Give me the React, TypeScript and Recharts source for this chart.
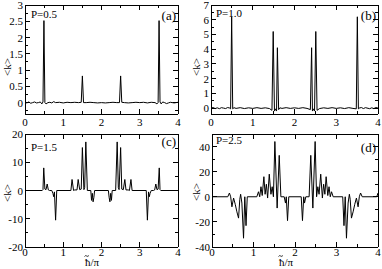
import React from 'react';
import { LineChart, Line, XAxis, YAxis } from 'recharts';

const FONT = '"Liberation Serif", "Times New Roman", serif';

// shared x axis
const xTicks = [0, 0.5, 1, 1.5, 2, 2.5, 3, 3.5, 4];
const xLabels = [0, 1, 2, 3, 4];

// panel (a) P=0.5
const ticksA = [-0.25, 0, 0.25, 0.5, 0.75, 1, 1.25, 1.5, 1.75, 2, 2.25, 2.5, 2.75, 3];
const labelsA = [0, 0.5, 1, 1.5, 2, 2.5, 3];
const curveA: [number, number][] = [
  [0, 0.01], [0.05, -0.01], [0.1, 0.02], [0.15, -0.02], [0.2, 0], [0.25, 0.02], [0.3, -0.01],
  [0.35, 0], [0.4, 0.02], [0.44, -0.04], [0.47, 0.02], [0.495, 2.52], [0.52, 0], [0.55, -0.04],
  [0.6, 0], [0.65, 0.01], [0.7, -0.01], [0.75, 0.03], [0.8, 0], [0.9, 0.01], [1.0, -0.01],
  [1.1, 0.01], [1.2, 0], [1.3, 0.01], [1.4, 0], [1.47, 0.01], [1.5, 0.82], [1.53, 0],
  [1.6, 0], [1.7, 0.01], [1.8, 0], [1.9, -0.01], [2.0, 0], [2.1, -0.01], [2.2, 0], [2.3, 0.01],
  [2.4, 0], [2.47, 0], [2.5, 0.82], [2.53, 0.01], [2.6, 0], [2.7, -0.01], [2.8, 0], [2.9, 0.01],
  [3.0, 0], [3.1, 0.01], [3.2, -0.01], [3.3, 0.01], [3.4, 0], [3.45, -0.04], [3.48, 0],
  [3.505, 2.52], [3.53, 0.02], [3.56, -0.04], [3.6, 0.02], [3.65, 0], [3.7, -0.03], [3.75, -0.01],
  [3.8, 0.01], [3.9, -0.01], [4, 0.01],
];

// panel (b) P=1.0
const ticksB = [0, 0.5, 1, 1.5, 2, 2.5, 3, 3.5, 4, 4.5, 5, 5.5, 6, 6.5, 7];
const labelsB = [0, 1, 2, 3, 4, 5, 6, 7];
const curveB: [number, number][] = [
  [0, 0], [0.05, 0.04], [0.1, -0.03], [0.15, 0.02], [0.2, -0.04], [0.25, 0.03], [0.3, 0],
  [0.35, -0.03], [0.4, 0.04], [0.45, 0], [0.47, -0.05], [0.495, 6.2], [0.52, -0.05], [0.55, 0.03],
  [0.6, -0.02], [0.7, 0.03], [0.8, -0.03], [0.9, 0.02], [1.0, -0.02], [1.1, 0.03], [1.2, -0.02],
  [1.3, 0.02], [1.4, -0.03], [1.46, -0.15], [1.49, 5.2], [1.52, -0.2], [1.55, -0.05], [1.57, -0.2],
  [1.59, 4.1], [1.62, -0.1], [1.65, 0.02], [1.7, -0.02], [1.8, 0.03], [1.9, -0.02], [2.0, 0.02],
  [2.1, -0.02], [2.2, 0.03], [2.3, -0.02], [2.38, -0.1], [2.41, 4.1], [2.43, -0.2], [2.45, -0.05],
  [2.48, -0.2], [2.51, 5.2], [2.54, -0.15], [2.6, -0.03], [2.7, 0.02], [2.8, -0.02], [2.9, 0.03],
  [3.0, -0.02], [3.1, 0.02], [3.2, -0.03], [3.3, 0.03], [3.4, -0.02], [3.48, -0.05], [3.505, 6.2],
  [3.53, -0.05], [3.55, 0], [3.6, 0.04], [3.65, -0.03], [3.7, 0.03], [3.8, -0.04], [3.85, 0.02],
  [3.9, -0.03], [3.95, 0.04], [4, 0],
];

// panel (c) P=1.5
const ticksC = [-20, -15, -10, -5, 0, 5, 10, 15, 20];
const labelsC = [-20, -10, 0, 10, 20];
const curveC: [number, number][] = [
  [0, 0], [0.45, 0], [0.47, 0.3], [0.49, 8], [0.52, 0.5], [0.55, 0.3], [0.58, 2.3], [0.61, 0.2],
  [0.64, 0], [0.7, 0], [0.73, -1], [0.75, -2.2], [0.77, -0.5], [0.8, -10.5], [0.83, 0],
  [1.2, 0], [1.23, 3.9], [1.27, 0], [1.3, 0.2], [1.36, 0.2], [1.39, 3.9], [1.43, 0.3],
  [1.47, 0.5], [1.5, 15.2], [1.54, 0.3], [1.56, 1], [1.59, 17.2], [1.63, 0], [1.72, 0],
  [1.74, -3.5], [1.76, -1], [1.78, -4], [1.8, -2.5], [1.82, 0],
  [2.18, 0], [2.2, -2.5], [2.22, -4], [2.24, -1], [2.26, -3.5], [2.28, 0], [2.37, 0],
  [2.41, 17.2], [2.44, 1], [2.46, 0.3], [2.5, 15.2], [2.53, 0.5], [2.57, 0.3], [2.61, 3.9],
  [2.64, 0.2], [2.7, 0.2], [2.73, 0], [2.77, 3.9], [2.8, 0],
  [3.17, 0], [3.2, -10.5], [3.23, -0.5], [3.25, -2.2], [3.27, -1], [3.3, 0], [3.36, 0],
  [3.39, 0.2], [3.42, 2.3], [3.45, 0.3], [3.48, 0.5], [3.51, 8], [3.53, 0.3], [3.55, 0], [4, 0],
];

// panel (d) P=2.5
const ticksD = [-40, -30, -20, -10, 0, 10, 20, 30, 40];
const labelsD = [-40, -20, 0, 20, 40];
const curveD: [number, number][] = [
  [0, 0], [0.38, 0], [0.42, 3], [0.45, 0], [0.48, -8], [0.52, -1], [0.56, -6], [0.6, -12],
  [0.64, -17], [0.67, -2], [0.69, 2], [0.72, -5], [0.76, -33], [0.79, 0], [0.82, -23], [0.85, 0],
  [1.08, 0], [1.12, 4], [1.15, 0], [1.18, 8], [1.21, 1], [1.25, 16], [1.28, 2], [1.31, 10],
  [1.34, -1], [1.38, 18], [1.42, 2], [1.45, 8], [1.48, 0], [1.515, 44], [1.57, -9], [1.62, 33],
  [1.66, 0], [1.74, 0], [1.77, -5], [1.79, 0], [1.82, -19], [1.85, 0],
  [2.15, 0], [2.18, -19], [2.21, 0], [2.23, -5], [2.26, 0], [2.34, 0], [2.38, 33], [2.43, -9],
  [2.485, 44], [2.52, 0], [2.55, 8], [2.58, 2], [2.62, 18], [2.66, -1], [2.69, 10], [2.72, 2],
  [2.75, 16], [2.79, 1], [2.82, 8], [2.85, 0], [2.88, 4], [2.92, 0],
  [3.15, 0], [3.18, -23], [3.21, 0], [3.24, -33], [3.28, -5], [3.31, 2], [3.33, -2], [3.36, -17],
  [3.4, -12], [3.44, -6], [3.48, -1], [3.52, -8], [3.55, 0], [3.58, 3], [3.62, 0], [3.97, 0],
  [4, 3],
];

const isIn = (list: number[], v: number) => list.some((l) => Math.abs(l - v) < 1e-9);

function makeTick(side: 'bottom' | 'top' | 'left' | 'right', labels: number[], labelDy = 12) {
  return (props: any) => {
    const { x, y, payload } = props;
    const v = payload.value;
    const major = isIn(labels, v);
    const len = major ? 5 : 3;
    const ls = { stroke: '#000', strokeWidth: 1, shapeRendering: 'crispEdges' as const };
    let line;
    if (side === 'bottom') line = <line x1={x} y1={y} x2={x} y2={y - len} {...ls} />;
    else if (side === 'top') line = <line x1={x} y1={y} x2={x} y2={y + len} {...ls} />;
    else if (side === 'left') line = <line x1={x} y1={y} x2={x + len} y2={y} {...ls} />;
    else line = <line x1={x} y1={y} x2={x - len} y2={y} {...ls} />;
    let label = null;
    if (major && side === 'bottom') {
      label = (
        <text x={x} y={y + labelDy} textAnchor="middle" fontSize={11} fontFamily={FONT} fill="#000">
          {String(v)}
        </text>
      );
    }
    if (major && side === 'left') {
      label = (
        <text x={x - 2} y={y + 4} textAnchor="end" fontSize={11} fontFamily={FONT} fill="#000">
          {String(v)}
        </text>
      );
    }
    return (
      <g>
        {line}
        {label}
      </g>
    );
  };
}

type PanelProps = {
  curve: [number, number][];
  yDomain: [number, number];
  yTicks: number[];
  yLabels: number[];
  left: number;
  top: number;
  width: number;
  height: number;
  margin: { top: number; right: number; bottom: number; left: number };
  xLabelDy: number;
};

// margin is the distance to the plot frame; the four axes take 1px each out of it
function Panel({ curve, yDomain, yTicks, yLabels, left, top, width, height, margin, xLabelDy }: PanelProps) {
  const data = curve.map(([x, y]) => ({ x, y }));
  const m = { top: margin.top - 1, right: margin.right - 1, bottom: margin.bottom - 1, left: margin.left - 1 };
  const axisCommon = {
    tickSize: 0, tickMargin: 0, tickLine: false, interval: 0 as const, allowDataOverflow: true,
    axisLine: { stroke: '#000', strokeWidth: 1, shapeRendering: 'crispEdges' },
  };
  return (
    <div style={{ position: 'absolute', left, top }}>
      <LineChart width={width} height={height} data={data} margin={m}>
        <XAxis xAxisId="b" dataKey="x" type="number" domain={[0, 4]} ticks={xTicks} height={1}
          tick={makeTick('bottom', xLabels, xLabelDy)} {...axisCommon} />
        <XAxis xAxisId="t" dataKey="x" type="number" domain={[0, 4]} ticks={xTicks} height={1}
          orientation="top" tick={makeTick('top', xLabels)} {...axisCommon} />
        <YAxis yAxisId="l" type="number" domain={yDomain} ticks={yTicks} width={1}
          tick={makeTick('left', yLabels)} {...axisCommon} />
        <YAxis yAxisId="r" type="number" domain={yDomain} ticks={yTicks} width={1}
          orientation="right" tick={makeTick('right', yLabels)} {...axisCommon} />
        <Line xAxisId="b" yAxisId="l" type="linear" dataKey="y" stroke="#000" strokeWidth={1}
          dot={false} isAnimationActive={false} />
      </LineChart>
    </div>
  );
}

export default function App() {
  const txt = { fontFamily: FONT, fill: '#000' };
  return (
    <div style={{ position: 'absolute', left: 0, top: 0, width: 382, height: 269, background: '#fff' }}>
      <Panel curve={curveA} yDomain={[-0.35, 3]} yTicks={ticksA} yLabels={labelsA}
        left={0} top={0} width={191} height={134} margin={{ top: 5, right: 13, bottom: 20, left: 25 }} xLabelDy={12} />
      <Panel curve={curveB} yDomain={[-0.4, 7]} yTicks={ticksB} yLabels={labelsB}
        left={191} top={0} width={191} height={134} margin={{ top: 5, right: 4, bottom: 20, left: 20 }} xLabelDy={12} />
      <Panel curve={curveC} yDomain={[-20, 20]} yTicks={ticksC} yLabels={labelsC}
        left={0} top={128} width={191} height={141} margin={{ top: 6, right: 13, bottom: 22, left: 25 }} xLabelDy={9} />
      <Panel curve={curveD} yDomain={[-40, 50]} yTicks={ticksD} yLabels={labelsD}
        left={191} top={128} width={191} height={141} margin={{ top: 6, right: 4, bottom: 22, left: 21 }} xLabelDy={9} />
      <svg width={382} height={269} style={{ position: 'absolute', left: 0, top: 0, pointerEvents: 'none' }}>
        <text x={31} y={18} fontSize={11} {...txt}>P=0.5</text>
        <text x={176} y={20} fontSize={13} textAnchor="end" {...txt}>(a)</text>
        <text x={216} y={17} fontSize={11} {...txt}>P=1.0</text>
        <text x={376} y={20} fontSize={13} textAnchor="end" {...txt}>(b)</text>
        <text x={31} y={151} fontSize={11} {...txt}>P=1.5</text>
        <text x={176} y={146} fontSize={13} textAnchor="end" {...txt}>(c)</text>
        <text x={216} y={144} fontSize={11} {...txt}>P=2.5</text>
        <text x={376} y={152} fontSize={13} textAnchor="end" {...txt}>(d)</text>
        <text x={11} y={67} fontSize={11} textAnchor="middle" transform="rotate(-90 11 67)" {...txt}>&lt;k&gt;</text>
        <text x={200} y={67} fontSize={11} textAnchor="middle" transform="rotate(-90 200 67)" {...txt}>&lt;k&gt;</text>
        <text x={11} y={193} fontSize={11} textAnchor="middle" transform="rotate(-90 11 193)" {...txt}>&lt;k&gt;</text>
        <text x={200} y={192} fontSize={11} textAnchor="middle" transform="rotate(-90 200 192)" {...txt}>&lt;k&gt;</text>
        <text x={92} y={266} fontSize={11} textAnchor="middle" {...txt}>ħ/π</text>
        <path d="M84.5 256.5 q1 -1.5 2.2 -0.5 q1.2 1 2.2 -0.5" fill="none" stroke="#000" strokeWidth={0.8} />
        <text x={286} y={266} fontSize={11} textAnchor="middle" {...txt}>ħ/π</text>
        <path d="M278.5 256.5 q1 -1.5 2.2 -0.5 q1.2 1 2.2 -0.5" fill="none" stroke="#000" strokeWidth={0.8} />
      </svg>
    </div>
  );
}
